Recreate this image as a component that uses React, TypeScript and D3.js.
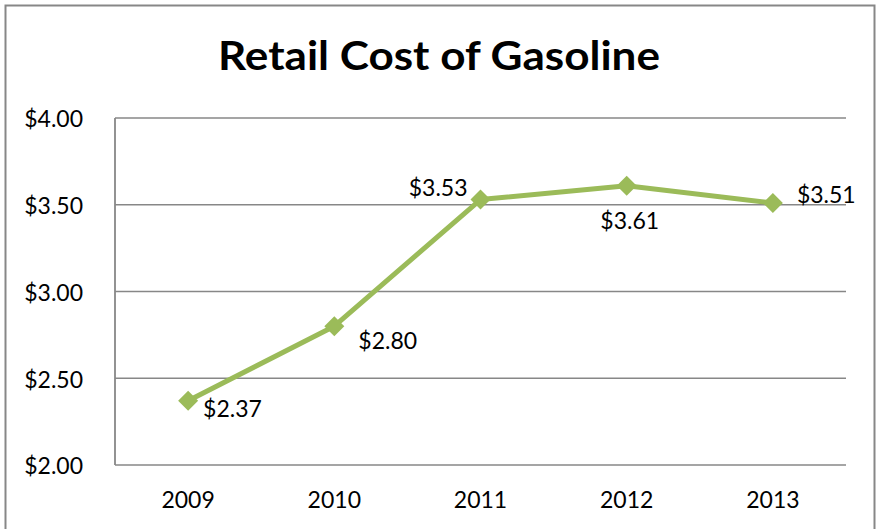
import React from "react";
import * as d3 from "d3";

const years = ["2009", "2010", "2011", "2012", "2013"];
const prices = [2.37, 2.8, 3.53, 3.61, 3.51];
const yTicks = [2.0, 2.5, 3.0, 3.5, 4.0];

// data label placement relative to each marker (layout only)
const labelAnchors = ["start", "start", "end", "middle", "start"];
const labelDx = [15, 24, -13, 3, 24];
const labelDy = [8, 15, -12, 35, -8];

const W = 877;
const H = 529;
const plot = { left: 115, right: 846, top: 118, bottom: 465 };
const font = "Lato, Calibri, 'Open Sans', sans-serif";
const green = "#9BBB59";
const gray = "#878787";
const fs = 23;

export default function App() {
  const x = d3
    .scaleBand<string>()
    .domain(years)
    .range([plot.left, plot.right]);
  const y = d3.scaleLinear().domain([2, 4]).range([plot.bottom, plot.top]);
  const cx = (d: string) => (x(d) as number) + x.bandwidth() / 2;

  const line = d3
    .line<number>()
    .x((_, i) => cx(years[i]))
    .y((d) => y(d));

  const fmt = (v: number) => "$" + v.toFixed(2);

  return (
    <svg
      width={W}
      height={H}
      style={{ position: "absolute", left: 0, top: 0, background: "#fff" }}
      fontFamily={font}
    >
      <rect x={0} y={0} width={W} height={H} fill="#fff" />
      <rect
        x={5.5}
        y={5.5}
        width={869}
        height={540}
        fill="#fff"
        stroke={gray}
        strokeWidth={2}
      />
      <text
        x={439}
        y={70}
        textAnchor="middle"
        fontSize={40}
        fontWeight="bold"
        fill="#000"
        textLength={442}
        lengthAdjust="spacingAndGlyphs"
      >
        Retail Cost of Gasoline
      </text>

      {yTicks.map((t) => (
        <g key={t}>
          <line
            x1={plot.left}
            x2={plot.right}
            y1={y(t)}
            y2={y(t)}
            stroke={gray}
            strokeWidth={1.6}
          />
          <text
            x={83}
            y={y(t) + 1}
            dy="0.36em"
            textAnchor="end"
            fontSize={fs}
            fill="#000"
          >
            {fmt(t)}
          </text>
        </g>
      ))}
      <line
        x1={plot.left}
        x2={plot.left}
        y1={plot.top}
        y2={plot.bottom}
        stroke={gray}
        strokeWidth={1.8}
      />

      {years.map((yr) => (
        <text
          key={yr}
          x={cx(yr)}
          y={508}
          textAnchor="middle"
          fontSize={fs}
          fill="#000"
        >
          {yr}
        </text>
      ))}

      <path
        d={line(prices) || ""}
        fill="none"
        stroke={green}
        strokeWidth={5}
        strokeLinejoin="round"
      />
      {prices.map((p, i) => {
        const px = cx(years[i]);
        const py = y(p);
        const s = 10;
        return (
          <path
            key={i}
            d={`M${px},${py - s}L${px + s},${py}L${px},${py + s}L${px - s},${py}Z`}
            fill={green}
          />
        );
      })}
      {prices.map((p, i) => (
        <text
          key={"l" + i}
          x={cx(years[i]) + labelDx[i]}
          y={y(p) + labelDy[i]}
          dy="0.36em"
          textAnchor={labelAnchors[i] as any}
          fontSize={fs}
          fill="#000"
        >
          {fmt(p)}
        </text>
      ))}
    </svg>
  );
}
